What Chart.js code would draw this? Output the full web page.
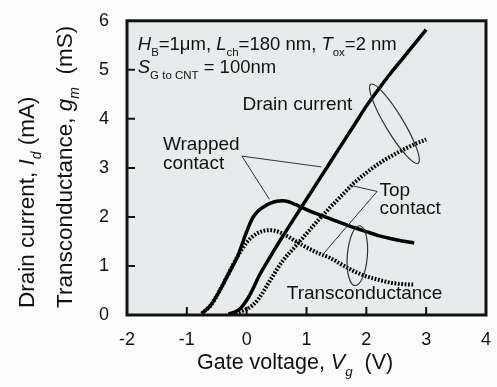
<!DOCTYPE html>
<html>
<head>
<meta charset="utf-8">
<script src="https://cdn.jsdelivr.net/npm/chart.js@4.4.1/dist/chart.umd.min.js"></script>
<style>
  html, body { margin: 0; padding: 0; background: #fcfcfc; }
  canvas { display: block; }
</style>
</head>
<body>
<canvas id="gmChart" width="497" height="387"></canvas>
<script>
// Gate voltage (V) and curves
const vgWrappedId = [-0.3, -0.2, -0.1, 0, 0.1, 0.2, 0.4, 0.6, 0.8, 1.0, 1.2, 1.4, 1.6, 1.8, 2.0, 2.2, 2.4, 2.6, 2.8, 3.0];
const idWrapped   = [0.02, 0.06, 0.14, 0.3, 0.52, 0.78, 1.2, 1.6, 1.98, 2.36, 2.74, 3.12, 3.5, 3.88, 4.26, 4.6, 4.92, 5.22, 5.52, 5.82];

const vgTopId = [-0.3, -0.2, -0.1, 0, 0.1, 0.2, 0.3, 0.4, 0.6, 0.8, 1.0, 1.2, 1.4, 1.6, 1.8, 2.0, 2.2, 2.4, 2.6, 2.8, 3.0];
const idTop   = [0.02, 0.04, 0.07, 0.12, 0.2, 0.33, 0.52, 0.72, 1.1, 1.38, 1.66, 1.94, 2.2, 2.45, 2.7, 2.9, 3.08, 3.23, 3.36, 3.48, 3.58];

const vgWrappedGm = [-0.75, -0.6, -0.45, -0.3, -0.15, 0, 0.1, 0.2, 0.3, 0.4, 0.5, 0.6, 0.7, 0.8, 1.0, 1.2, 1.4, 1.6, 1.8, 2.0, 2.2, 2.4, 2.6, 2.8];
const gmWrapped   = [0.03, 0.2, 0.5, 0.85, 1.2, 1.7, 1.98, 2.13, 2.22, 2.28, 2.32, 2.33, 2.31, 2.26, 2.15, 2.05, 1.96, 1.87, 1.78, 1.7, 1.62, 1.56, 1.51, 1.47];

const vgTopGm = [-0.75, -0.6, -0.45, -0.3, -0.15, 0, 0.1, 0.2, 0.3, 0.4, 0.5, 0.6, 0.8, 1.0, 1.2, 1.4, 1.6, 1.8, 2.0, 2.2, 2.4, 2.6, 2.8];
const gmTop   = [0.03, 0.2, 0.5, 0.85, 1.2, 1.48, 1.6, 1.68, 1.72, 1.73, 1.71, 1.66, 1.52, 1.38, 1.26, 1.16, 1.02, 0.89, 0.79, 0.72, 0.66, 0.63, 0.62];

const xTicks = [-2, -1, 0, 1, 2, 3, 4];
const yTicks = [0, 1, 2, 3, 4, 5, 6];

const FONT = '"Liberation Sans", Arial, sans-serif';

function pts(xs, ys) {
  return xs.map((x, i) => ({ x, y: ys[i] }));
}

function line(xs, ys, dotted) {
  return {
    data: pts(xs, ys),
    showLine: true,
    borderColor: '#000',
    borderWidth: dotted ? 4 : 3.5,
    borderDash: dotted ? [1.8, 1.6] : [],
    pointRadius: 0,
    tension: 0.4,
    cubicInterpolationMode: 'monotone',
  };
}

// text with italic letters and subscripts
function richText(ctx, x, y, parts, size) {
  let cx = x;
  for (const p of parts) {
    const fs = p.sub ? size * 0.62 : size;
    ctx.font = `${p.it ? 'italic ' : ''}${fs}px ${FONT}`;
    ctx.fillText(p.t, cx, y + (p.sub ? size * 0.32 : 0));
    cx += ctx.measureText(p.t).width;
  }
}

const decorations = {
  id: 'decorations',
  beforeDraw(chart) {
    const { ctx, chartArea: a } = chart;
    ctx.save();
    ctx.fillStyle = '#fcfcfc';
    ctx.fillRect(0, 0, chart.width, chart.height);
    ctx.fillStyle = '#e6ebeb';
    ctx.fillRect(a.left, a.top, a.right - a.left, a.bottom - a.top);
    ctx.restore();
  },
  afterDraw(chart) {
    const { ctx, chartArea: a, scales: { x, y } } = chart;
    const P = (v, g) => [x.getPixelForValue(v), y.getPixelForValue(g)];
    ctx.save();

    // inward ticks
    ctx.strokeStyle = '#111';
    ctx.lineWidth = 2;
    ctx.beginPath();
    xTicks.slice(1, -1).forEach(v => {
      const px = x.getPixelForValue(v);
      ctx.moveTo(px, a.bottom); ctx.lineTo(px, a.bottom - 8);
    });
    yTicks.slice(1, -1).forEach(v => {
      const py = y.getPixelForValue(v);
      ctx.moveTo(a.left, py); ctx.lineTo(a.left + 8, py);
    });
    ctx.stroke();

    // frame
    ctx.lineWidth = 3;
    ctx.strokeRect(a.left, a.top, a.right - a.left, a.bottom - a.top);

    // leader lines
    ctx.strokeStyle = '#333';
    ctx.lineWidth = 1;
    const seg = (p, q) => { ctx.beginPath(); ctx.moveTo(...P(...p)); ctx.lineTo(...P(...q)); ctx.stroke(); };
    seg([-0.08, 3.24], [1.25, 3.02]);
    seg([-0.08, 3.24], [0.38, 2.36]);
    seg([2.18, 2.52], [1.75, 2.64]);
    seg([2.18, 2.52], [1.27, 1.23]);

    // loops around curve pairs
    ctx.lineWidth = 1.2;
    let c = P(2.47, 3.9);
    ctx.beginPath(); ctx.ellipse(c[0], c[1], 46, 9, 1.03, 0, Math.PI * 2); ctx.stroke();
    c = P(1.85, 1.21);
    ctx.beginPath(); ctx.ellipse(c[0], c[1], 10, 30, 0.08, 0, Math.PI * 2); ctx.stroke();

    // labels inside the plot
    ctx.fillStyle = '#111';
    ctx.textBaseline = 'alphabetic';
    ctx.textAlign = 'left';
    let p = P(-1.82, 5.40);
    richText(ctx, p[0], p[1], [
      { t: 'H', it: true }, { t: 'B', sub: true }, { t: '=1\u03bcm, ' },
      { t: 'L', it: true }, { t: 'ch', sub: true }, { t: '=180 nm, ' },
      { t: 'T', it: true }, { t: 'ox', sub: true }, { t: '=2 nm' },
    ], 18.5);
    p = P(-1.82, 4.93);
    richText(ctx, p[0], p[1], [
      { t: 'S', it: true }, { t: 'G to CNT', sub: true }, { t: ' = 100nm' },
    ], 18.5);
    ctx.font = `19px ${FONT}`;
    p = P(-0.07, 4.19); ctx.fillText('Drain current', p[0], p[1]);
    p = P(-1.4, 3.36); ctx.fillText('Wrapped', p[0], p[1]);
    p = P(-1.4, 2.98); ctx.fillText('contact', p[0], p[1]);
    p = P(2.22, 2.42); ctx.fillText('Top', p[0], p[1]);
    p = P(2.22, 2.05); ctx.fillText('contact', p[0], p[1]);
    p = P(0.67, 0.32); ctx.fillText('Transconductance', p[0], p[1]);

    // axis titles
    richText(ctx, 197, 369, [
      { t: 'Gate voltage, ' }, { t: 'V', it: true }, { t: 'g', sub: true, it: true }, { t: '  (V)' },
    ], 21.5);

    ctx.translate(34, 308);
    ctx.rotate(-Math.PI / 2);
    richText(ctx, 0, 0, [
      { t: 'Drain current, ' }, { t: 'I', it: true }, { t: 'd', sub: true, it: true }, { t: ' (mA)' },
    ], 22.5);
    ctx.translate(0, 38);
    richText(ctx, 0, 0, [
      { t: 'Transconductance, ' }, { t: 'g', it: true }, { t: 'm', sub: true, it: true }, { t: '  (mS)' },
    ], 22.5);

    ctx.restore();
  },
};

new Chart(document.getElementById('gmChart').getContext('2d'), {
  type: 'scatter',
  data: {
    datasets: [
      line(vgWrappedId, idWrapped, false),
      line(vgTopId, idTop, true),
      line(vgWrappedGm, gmWrapped, false),
      line(vgTopGm, gmTop, true),
    ],
  },
  options: {
    responsive: false,
    animation: false,
    devicePixelRatio: 1,
    layout: { padding: { top: 13, right: 10, left: 0, bottom: 0 } },
    plugins: { legend: { display: false }, tooltip: { enabled: false } },
    scales: {
      x: {
        type: 'linear', min: -2, max: 4,
        afterBuildTicks: s => { s.ticks = xTicks.map(v => ({ value: v })); },
        afterFit: s => { s.height = 72; },
        grid: { display: false },
        border: { display: false },
        ticks: { padding: 6, color: '#111', font: { family: FONT, size: 18 }, maxRotation: 0 },
      },
      y: {
        type: 'linear', min: 0, max: 6,
        afterBuildTicks: s => { s.ticks = yTicks.map(v => ({ value: v })); },
        afterFit: s => { s.width = 127; },
        grid: { display: false },
        border: { display: false },
        ticks: { padding: 10, color: '#111', font: { family: FONT, size: 18 } },
      },
    },
  },
  plugins: [decorations],
});
</script>
</body>
</html>
